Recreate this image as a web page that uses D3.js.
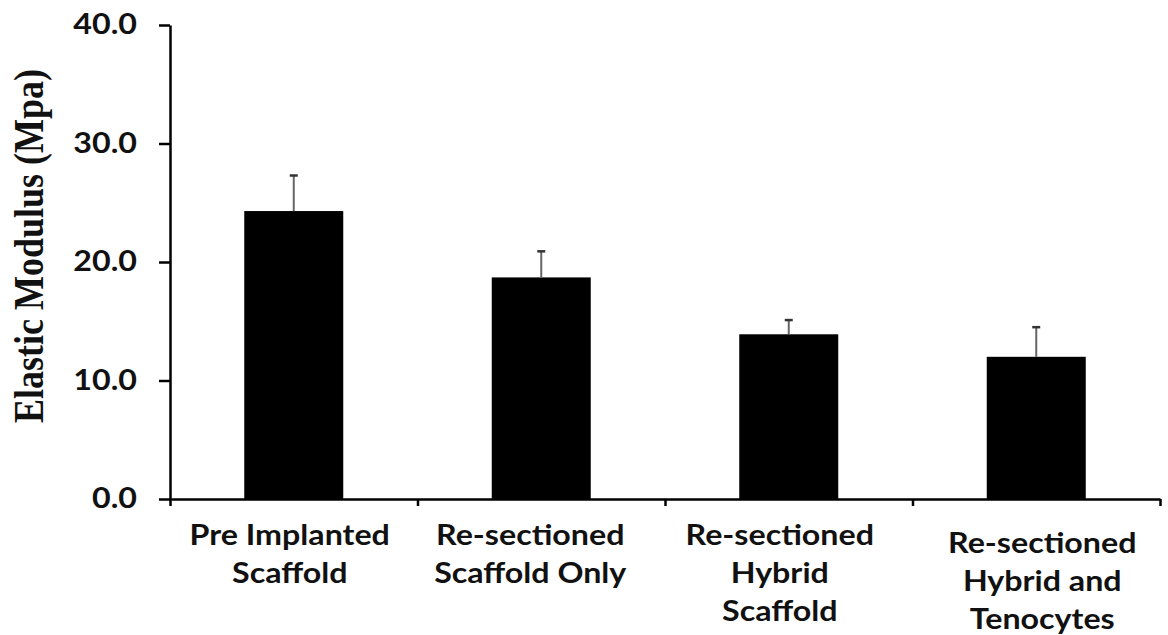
<!DOCTYPE html>
<html>
<head>
<meta charset="utf-8">
<script src="https://cdn.jsdelivr.net/npm/d3@7"></script>
<style>
  html, body { margin: 0; padding: 0; background: #fff; }
  svg { display: block; }
</style>
</head>
<body>
<svg id="chart" width="1168" height="635"></svg>
<script>
// Elastic modulus (MPa) per scaffold group, mean and standard deviation
const categories = [
  ["Pre Implanted", "Scaffold"],
  ["Re-sectioned", "Scaffold Only"],
  ["Re-sectioned", "Hybrid", "Scaffold"],
  ["Re-sectioned", "Hybrid and", "Tenocytes"]
];
const meanValues = [24.3, 18.7, 13.9, 12.0];
const sdValues = [3.0, 2.2, 1.2, 2.5];
const yTicks = [0, 10, 20, 30, 40];
const yTitle = "Elastic Modulus (Mpa)";

const svg = d3.select("#chart");
const stretch = 1.15; // text is drawn slightly wide

const keys = categories.map((c, i) => i);
const x = d3.scaleBand()
  .domain(keys)
  .range([170, 1160])
  .paddingInner(0.6)
  .paddingOuter(0.3);
const slot = d3.scaleLinear().domain([0, keys.length]).range([170, 1160]);
const y = d3.scaleLinear().domain([0, 40]).range([499, 25]);

// bars
svg.append("g")
  .selectAll("rect")
  .data(meanValues)
  .join("rect")
  .attr("x", (d, i) => x(i))
  .attr("y", d => y(d))
  .attr("width", x.bandwidth())
  .attr("height", d => y(0) - y(d))
  .attr("fill", "#000");

// upper error bars
const err = svg.append("g");
meanValues.forEach((m, i) => {
  const cx = x(i) + x.bandwidth() / 2;
  err.append("line")
    .attr("x1", cx).attr("x2", cx)
    .attr("y1", y(m)).attr("y2", y(m + sdValues[i]))
    .attr("stroke", "#666").attr("stroke-width", 2);
  err.append("line")
    .attr("x1", cx - 4).attr("x2", cx + 4)
    .attr("y1", y(m + sdValues[i])).attr("y2", y(m + sdValues[i]))
    .attr("stroke", "#333").attr("stroke-width", 2.5);
});

// y axis
const yAxis = svg.append("g")
  .attr("transform", "translate(170,0)")
  .call(d3.axisLeft(y).tickValues(yTicks).tickFormat(d3.format(".1f"))
    .tickSize(11).tickSizeOuter(0));
yAxis.select(".domain").attr("stroke", "#000").attr("stroke-width", 2.5);
yAxis.selectAll(".tick line").attr("stroke", "#000").attr("stroke-width", 2.5);
yAxis.selectAll(".tick text")
  .attr("x", null)
  .attr("transform", `translate(-33,0) scale(${stretch},1)`)
  .attr("text-anchor", "end")
  .attr("fill", "#111")
  .style("font-family", "Lato, sans-serif")
  .style("font-weight", "bold")
  .style("font-size", "28px");

// x axis with ticks between groups
const xAxis = svg.append("g")
  .attr("transform", "translate(0,499)")
  .call(d3.axisBottom(slot).tickValues(d3.range(keys.length + 1))
    .tickFormat("").tickSize(7).tickSizeOuter(0));
xAxis.select(".domain").attr("stroke", "#000").attr("stroke-width", 2.5);
xAxis.selectAll(".tick line").attr("stroke", "#000").attr("stroke-width", 2.5);

// category labels, nudged slightly from the band centres
const labelNudge = [-4, -11, -9, 6];
const labelTop = [545, 545, 545, 553];
categories.forEach((lines, i) => {
  const cx = x(i) + x.bandwidth() / 2 + labelNudge[i];
  const t = svg.append("text")
    .attr("transform", `translate(${cx},${labelTop[i]}) scale(${stretch},1)`)
    .attr("text-anchor", "middle")
    .attr("fill", "#111")
    .style("font-family", "Lato, sans-serif")
    .style("font-weight", "bold")
    .style("font-size", "28px");
  lines.forEach((line, j) => {
    t.append("tspan").attr("x", 0).attr("dy", j === 0 ? 0 : 38).text(line);
  });
});

// y axis title
svg.append("text")
  .attr("transform", `translate(43,246) scale(${stretch},1) rotate(-90)`)
  .attr("text-anchor", "middle")
  .attr("fill", "#111")
  .style("font-family", "'Liberation Serif', 'Times New Roman', serif")
  .style("font-weight", "bold")
  .style("font-size", "36px")
  .text(yTitle);
</script>
</body>
</html>
